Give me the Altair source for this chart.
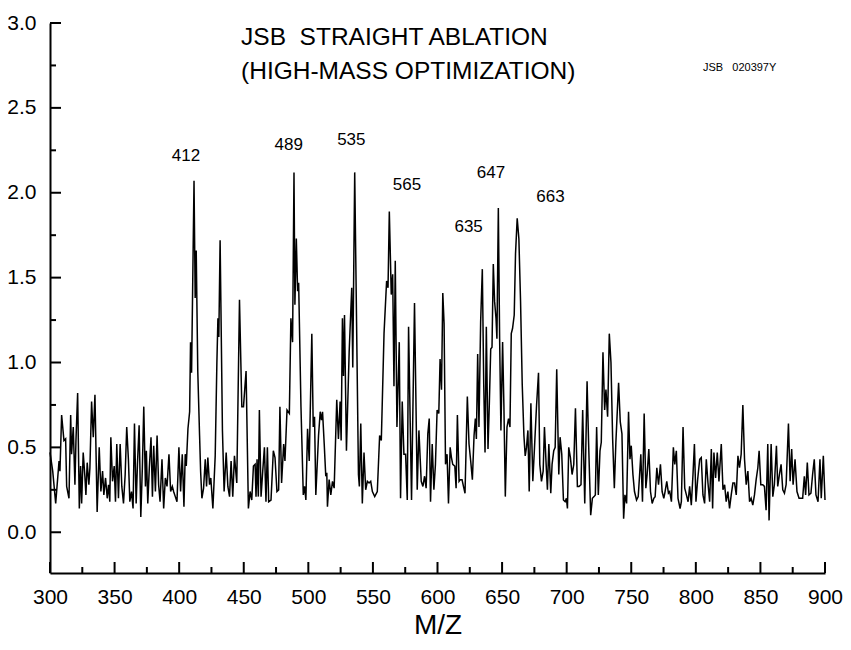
import altair as alt
import pandas as pd

FONT = "Liberation Sans"
NB = "\u00a0"

# ---- spectrum trace (m/z, intensity) ----
mz1 = [300.0, 302.1, 304.4, 307.0, 307.7, 309.0, 310.8, 312.1, 312.9, 314.7,
       316.0, 316.7, 318.0, 319.3, 320.1, 321.4, 322.7, 323.7, 324.5, 325.7,
       327.0, 327.8, 328.8, 330.1, 330.9, 332.2, 333.5, 334.8, 336.5, 338.1,
       339.4, 340.7, 341.7, 343.0, 344.3, 345.3, 346.3, 347.1, 348.4, 349.7,
       350.7, 351.7, 353.0, 354.3, 355.6, 356.9, 358.2, 359.4, 360.7, 361.8,
       363.1, 364.3, 365.4, 366.7, 367.7, 369.0, 370.3, 371.5, 372.6, 373.9,
       374.6, 375.7, 376.9, 378.2, 379.3, 380.3, 381.6, 382.9, 384.1, 385.2,
       386.7, 388.0, 389.3, 390.6, 392.1, 393.4, 394.7, 395.7, 397.0, 398.3,
       399.8, 401.1, 402.4, 403.7, 404.7, 405.5, 406.8, 408.1, 408.8, 409.6,
       411.5, 412.4, 413.2, 414.4, 415.8, 416.6, 417.6, 418.9, 420.2, 421.2,
       422.2, 423.5, 424.5, 426.1, 427.9, 429.2, 430.0, 430.7, 431.7, 433.5, 434.8]
int1 = [0.47, 0.36, 0.17, 0.42, 0.36, 0.69, 0.54, 0.55, 0.27, 0.20,
        0.69, 0.46, 0.62, 0.28, 0.54, 0.82, 0.14, 0.39, 0.17, 0.47,
        0.33, 0.22, 0.41, 0.28, 0.38, 0.77, 0.56, 0.81, 0.12, 0.50,
        0.24, 0.36, 0.22, 0.32, 0.20, 0.28, 0.18, 0.56, 0.30, 0.39,
        0.18, 0.52, 0.20, 0.52, 0.27, 0.17, 0.34, 0.62, 0.43, 0.18,
        0.24, 0.14, 0.64, 0.17, 0.40, 0.63, 0.09, 0.38, 0.74, 0.27,
        0.48, 0.17, 0.38, 0.56, 0.21, 0.51, 0.24, 0.57, 0.28, 0.18,
        0.43, 0.14, 0.32, 0.27, 0.46, 0.24, 0.27, 0.24, 0.21, 0.18,
        0.50, 0.24, 0.46, 0.15, 0.46, 0.39, 0.61, 0.71, 1.12, 0.94,
        2.07, 1.38, 1.66, 0.95, 0.57, 0.36, 0.20, 0.26, 0.43, 0.27,
        0.44, 0.28, 0.32, 0.14, 0.45, 1.00, 1.26, 1.15, 1.72, 0.60, 0.24]

mz2 = [436.4, 437.7, 439.0, 440.2, 441.5, 442.8, 444.6, 446.7, 448.5, 449.8,
       451.8, 453.6, 454.9, 456.2, 457.5, 458.8, 459.5, 460.3, 461.3, 462.1,
       463.4, 464.7, 466.0, 467.2, 468.3, 469.3, 471.1, 472.9, 474.2, 475.7,
       477.0, 478.0, 479.3, 480.9, 481.9, 483.5, 485.3, 486.5, 487.8, 488.9,
       489.6, 490.7, 491.7, 492.5, 494.3, 496.1, 497.1, 498.1, 499.4, 500.7,
       502.7, 503.8, 504.8, 505.8, 507.9, 509.2, 510.2, 511.0, 512.3, 513.5,
       514.3, 514.8, 516.1, 517.4, 518.7, 520.0, 522.0, 523.3, 524.6, 525.4,
       526.4, 527.2, 528.0, 529.5, 531.6, 533.6, 534.4, 535.9, 538.8, 539.5,
       540.6, 541.8, 543.1, 544.4, 545.7, 547.0, 548.3, 549.6, 551.4, 553.4,
       555.2, 556.5, 558.6, 560.6, 561.7, 562.7, 564.2, 565.3, 566.3, 567.3,
       568.6, 570.4, 571.4, 572.7, 574.0, 575.3, 576.6, 577.6, 579.9, 582.2,
       584.3, 585.6, 587.4, 588.7, 590.0]
int2 = [0.47, 0.27, 0.21, 0.42, 0.21, 0.45, 0.29, 1.37, 0.74, 0.74,
        0.95, 0.14, 0.24, 0.19, 0.39, 0.40, 0.21, 0.43, 0.21, 0.72,
        0.21, 0.36, 0.50, 0.18, 0.50, 0.18, 0.19, 0.48, 0.44, 0.24,
        0.25, 0.74, 0.29, 0.52, 0.42, 0.72, 0.70, 1.26, 1.12, 2.12,
        1.34, 1.73, 1.42, 1.47, 0.74, 0.22, 0.27, 0.19, 0.61, 0.42,
        1.17, 0.62, 0.68, 0.22, 0.57, 0.71, 0.66, 0.71, 0.52, 0.33,
        0.35, 0.15, 0.31, 0.22, 0.30, 0.26, 0.78, 0.55, 0.77, 0.54,
        1.26, 0.92, 1.28, 0.48, 1.06, 1.44, 0.97, 2.12, 0.34, 0.27,
        0.64, 0.17, 0.47, 0.25, 0.30, 0.29, 0.30, 0.24, 0.21, 0.24,
        0.57, 0.54, 1.17, 1.48, 1.44, 1.89, 1.40, 1.52, 0.86, 1.60,
        0.62, 1.12, 0.20, 0.77, 0.46, 0.46, 0.19, 1.21, 0.19, 1.35,
        0.25, 0.60, 0.30, 0.27, 0.33]

mz3 = [591.2, 592.5, 593.6, 594.6, 595.9, 597.2, 598.4, 599.7, 601.0, 602.0,
       603.1, 604.1, 605.1, 606.2, 607.4, 608.5, 609.8, 610.8, 611.8, 613.4,
       614.4, 615.4, 616.7, 617.7, 619.0, 620.1, 621.3, 623.1, 624.4, 625.7,
       627.0, 628.3, 629.3, 630.1, 631.1, 632.1, 633.4, 634.7, 635.8, 636.8,
       637.8, 639.1, 640.1, 641.2, 642.2, 643.2, 644.2, 645.3, 646.0, 647.1,
       648.1, 649.1, 650.4, 651.4, 652.5, 653.8, 655.0, 656.1, 657.1, 658.1,
       659.4, 660.4, 661.7, 663.0, 664.3, 665.6, 666.9, 667.9, 668.9, 670.0,
       671.0, 672.3, 673.8, 675.1, 676.7, 678.2, 679.2, 680.5, 681.8, 682.8,
       684.1, 685.1, 686.2, 687.7, 688.7, 690.0, 691.1, 692.3, 693.9, 694.9,
       696.2, 697.5, 698.8, 699.8, 700.6, 701.6, 702.9, 704.2, 705.5, 706.8,
       708.3, 709.6, 711.1, 712.4, 714.0, 715.8, 717.0, 718.6, 719.9, 721.2,
       722.2, 723.2, 724.5, 725.8, 726.8, 728.1, 729.4, 730.4, 731.7, 733.0,
       734.3, 735.6, 736.9]
int3 = [0.26, 0.58, 0.67, 0.18, 0.52, 0.25, 0.40, 0.72, 0.70, 1.02,
        0.84, 1.41, 1.23, 0.40, 0.46, 0.17, 0.50, 0.44, 0.40, 0.39,
        0.26, 0.69, 0.30, 0.31, 0.31, 0.27, 0.23, 0.80, 0.52, 0.42,
        0.31, 0.57, 0.67, 0.55, 1.05, 0.62, 1.24, 1.55, 0.87, 0.47,
        1.21, 0.49, 0.75, 1.08, 1.09, 1.58, 1.36, 1.26, 1.14, 1.91,
        1.14, 0.60, 1.12, 0.75, 0.21, 0.62, 0.67, 0.62, 1.17, 1.20,
        1.28, 1.64, 1.85, 1.73, 1.36, 0.87, 0.57, 0.45, 0.50, 0.60,
        0.24, 0.76, 0.30, 0.50, 0.75, 0.94, 0.40, 0.30, 0.36, 0.62,
        0.40, 0.25, 0.52, 0.23, 0.40, 0.48, 0.50, 0.96, 0.34, 0.56,
        0.46, 0.19, 0.18, 0.20, 0.14, 0.50, 0.44, 0.34, 0.40, 0.73,
        0.27, 0.27, 0.28, 0.72, 0.17, 0.89, 0.52, 0.10, 0.20, 0.21,
        0.22, 0.62, 0.22, 0.48, 0.53, 1.06, 0.72, 0.84, 0.68, 1.17,
        1.00, 0.55, 0.26]

mz4 = [738.1, 740.2, 741.5, 742.8, 744.1, 745.1, 746.4, 747.9, 749.0, 750.0,
       751.3, 752.5, 754.1, 755.4, 756.4, 757.4, 758.7, 760.0, 761.3, 762.3,
       763.6, 764.9, 766.2, 767.5, 768.5, 769.8, 771.1, 772.6, 773.9, 775.2,
       776.2, 777.5, 778.8, 779.8, 781.1, 782.6, 783.7, 784.9, 786.2, 787.8,
       788.8, 790.1, 791.4, 792.7, 794.0, 795.2, 796.5, 797.8, 798.9, 800.1,
       801.4, 803.0, 804.2, 805.5, 806.8, 808.1, 809.4, 810.7, 812.0, 813.0,
       814.0, 815.3, 816.6, 817.9, 819.7, 821.0, 822.3, 823.5, 824.8, 826.1,
       827.4, 828.7, 830.0, 831.3, 832.6, 833.8, 835.1, 836.4, 837.7, 839.0,
       840.3, 841.6, 842.8, 844.1, 845.4, 846.7, 848.0, 849.0, 850.3, 851.8,
       853.1, 854.4, 855.7, 856.7, 858.3, 859.6, 860.8, 862.4, 863.4, 864.7,
       866.0, 867.3, 868.6, 869.9, 871.7, 873.0, 874.2, 875.3, 876.8, 878.3,
       879.9, 881.4, 882.7, 884.0, 885.0, 886.3, 887.6, 889.1, 890.4, 891.7,
       893.0, 894.6, 896.1, 897.1, 898.7, 900.0]
int4 = [0.53, 0.88, 0.65, 0.58, 0.08, 0.22, 0.17, 0.71, 0.43, 0.51,
        0.34, 0.24, 0.19, 0.21, 0.33, 0.46, 0.18, 0.70, 0.26, 0.34,
        0.49, 0.24, 0.17, 0.20, 0.21, 0.38, 0.28, 0.40, 0.24, 0.20,
        0.24, 0.30, 0.23, 0.24, 0.18, 0.50, 0.40, 0.48, 0.20, 0.14,
        0.18, 0.62, 0.26, 0.22, 0.18, 0.27, 0.16, 0.34, 0.52, 0.18,
        0.31, 0.43, 0.44, 0.22, 0.17, 0.43, 0.29, 0.18, 0.49, 0.14,
        0.47, 0.32, 0.47, 0.30, 0.52, 0.25, 0.28, 0.18, 0.24, 0.14,
        0.22, 0.29, 0.29, 0.22, 0.45, 0.38, 0.46, 0.75, 0.43, 0.28,
        0.36, 0.18, 0.20, 0.16, 0.22, 0.31, 0.38, 0.48, 0.28, 0.28,
        0.27, 0.13, 0.52, 0.07, 0.52, 0.21, 0.28, 0.51, 0.27, 0.34,
        0.40, 0.25, 0.23, 0.28, 0.64, 0.30, 0.49, 0.28, 0.43, 0.24,
        0.20, 0.20, 0.20, 0.33, 0.22, 0.41, 0.22, 0.23, 0.34, 0.43,
        0.22, 0.18, 0.43, 0.20, 0.45, 0.19]

# ---- axis ticks ----
x_major = [300, 350, 400, 450, 500, 550, 600, 650, 700, 750, 800, 850, 900]
x_minor = [325, 375, 425, 475, 525, 575, 625, 675, 725, 775, 825, 875]
y_major = [0.0, 0.5, 1.0, 1.5, 2.0, 2.5, 3.0]
y_minor = [0.25, 0.75, 1.25, 1.75, 2.25, 2.75]

# ---- annotations ----
peak_labels = ["412", "489", "535", "565", "635", "647", "663"]
peak_label_mz = [405.3, 484.8, 533.3, 576.4, 624.1, 641.4, 687.5]
peak_label_int = [2.186, 2.249, 2.279, 2.019, 1.770, 2.084, 1.946]

title_lines = ["JSB" + NB + " STRAIGHT ABLATION", "(HIGH-MASS OPTIMIZATION)"]
title_mz = [447.9, 447.9]
title_int = [2.868, 2.671]

stamp_text = ["JSB" + NB + NB + " 020397Y"]
stamp_mz = [805.5]
stamp_int = [2.715]

df = pd.DataFrame({"mz": mz1 + mz2 + mz3 + mz4,
                   "intensity": int1 + int2 + int3 + int4})

W, H = 775, 550
xs = alt.Scale(domain=[300, 900], nice=False, zero=False)
ys = alt.Scale(domain=[-0.24, 3.0], nice=False, zero=False)

x_axis = alt.Axis(title="M/Z", values=x_major, format="d", ticks=False, tickSize=0,
                  grid=False, domainColor="black", domainWidth=2,
                  labelFont=FONT, labelFontSize=21, labelColor="black",
                  labelPadding=13, labelFlush=False,
                  titleFont=FONT, titleFontSize=28, titleFontWeight="normal",
                  titleColor="black", titleBaseline="alphabetic", titleY=60)
y_axis = alt.Axis(title=None, values=y_major, format=".1f", ticks=False, tickSize=0,
                  grid=False, domainColor="black", domainWidth=2,
                  labelFont=FONT, labelFontSize=21, labelColor="black",
                  labelPadding=14, labelFlush=False)

X = alt.X("mz:Q", scale=xs, axis=x_axis)
Y = alt.Y("intensity:Q", scale=ys, axis=y_axis)

line = alt.Chart(df).mark_line(color="black", strokeWidth=1.5).encode(x=X, y=Y)


def xticks(vals, length):
    return alt.Chart(pd.DataFrame({"mz": vals})).mark_rule(color="black", strokeWidth=2).encode(
        x=X, y=alt.value(H), y2=alt.value(H - length))


def yticks(vals, length):
    return alt.Chart(pd.DataFrame({"intensity": vals})).mark_rule(color="black", strokeWidth=2).encode(
        y=Y, x=alt.value(0), x2=alt.value(length))


peaks = alt.Chart(pd.DataFrame({"mz": peak_label_mz, "intensity": peak_label_int,
                                "label": peak_labels})).mark_text(
    font=FONT, fontSize=17, color="black", align="center", baseline="alphabetic").encode(
    x=X, y=Y, text="label:N")

titles = alt.Chart(pd.DataFrame({"mz": title_mz, "intensity": title_int,
                                 "label": title_lines})).mark_text(
    font=FONT, fontSize=24.5, color="black", align="left", baseline="alphabetic").encode(
    x=X, y=Y, text="label:N")

stamp = alt.Chart(pd.DataFrame({"mz": stamp_mz, "intensity": stamp_int,
                                "label": stamp_text})).mark_text(
    font=FONT, fontSize=11, color="black", align="left", baseline="alphabetic").encode(
    x=X, y=Y, text="label:N")

chart = alt.layer(
    line,
    xticks(x_major, 11), xticks(x_minor, 6),
    yticks(y_major, 11), yticks(y_minor, 6),
    peaks, titles, stamp,
).properties(
    width=W, height=H,
    padding={"left": 42, "top": 15, "right": 18, "bottom": 66},
    autosize="none",
).configure(background="white").configure_view(stroke=None)

chart.save("out.html", embed_options={"renderer": "svg", "actions": False})
